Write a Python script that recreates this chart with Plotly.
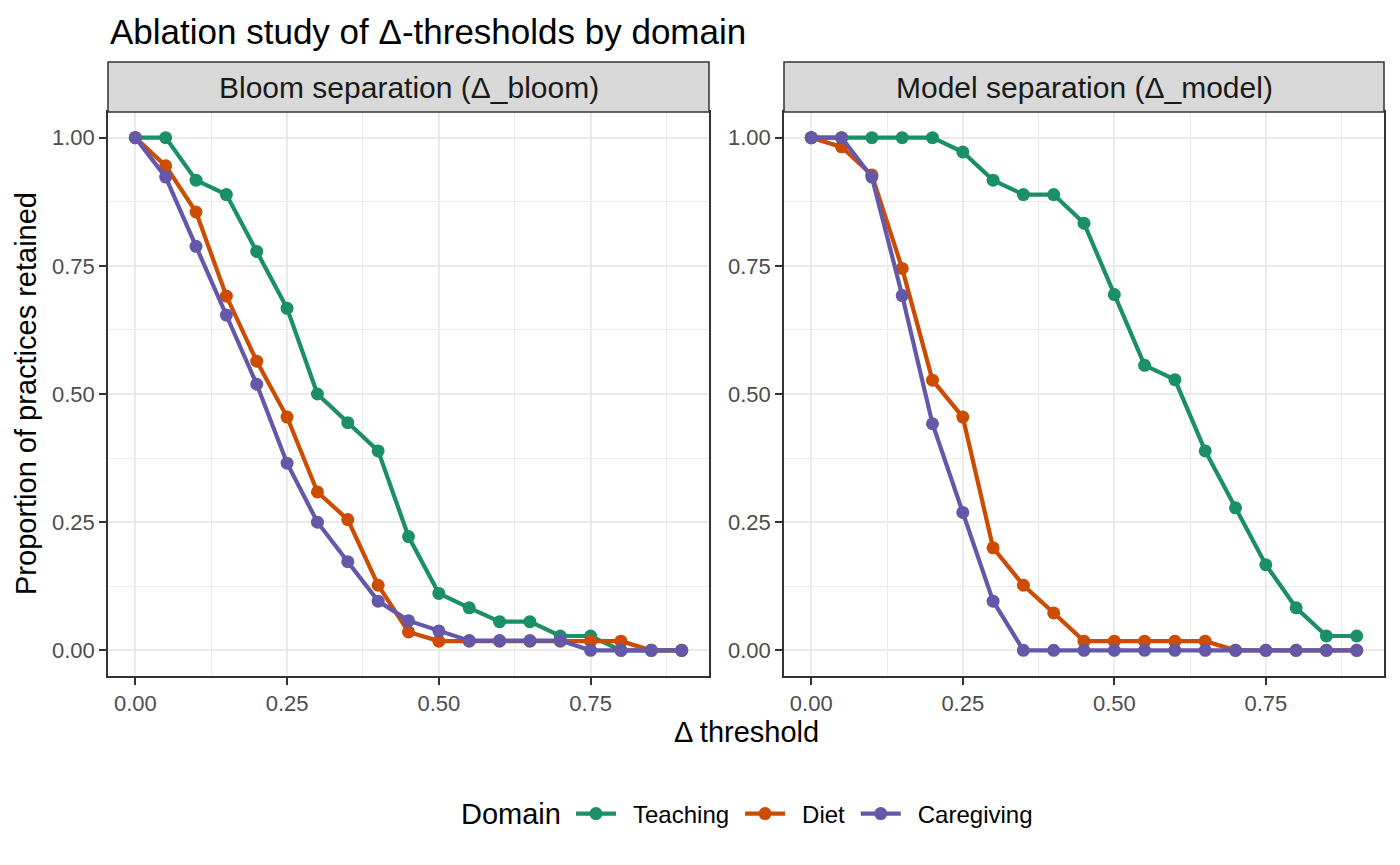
import plotly.graph_objects as go

# ---------------- data ----------------
thresholds = [0.00, 0.05, 0.10, 0.15, 0.20, 0.25, 0.30, 0.35, 0.40, 0.45,
              0.50, 0.55, 0.60, 0.65, 0.70, 0.75, 0.80, 0.85, 0.90]

domains = ["Teaching", "Diet", "Caregiving"]
colors = ["#1A8F68", "#CC4C02", "#6558A8"]

bloom_teaching = [1.000, 1.000, 0.917, 0.889, 0.778, 0.667, 0.500, 0.444, 0.389, 0.222,
                  0.111, 0.083, 0.056, 0.056, 0.028, 0.028, 0.000, 0.000, 0.000]
bloom_diet = [1.000, 0.945, 0.855, 0.691, 0.564, 0.455, 0.309, 0.255, 0.127, 0.036,
              0.018, 0.018, 0.018, 0.018, 0.018, 0.018, 0.018, 0.000, 0.000]
bloom_caregiving = [1.000, 0.923, 0.788, 0.654, 0.519, 0.365, 0.250, 0.173, 0.096, 0.058,
                    0.038, 0.019, 0.019, 0.019, 0.019, 0.000, 0.000, 0.000, 0.000]

model_teaching = [1.000, 1.000, 1.000, 1.000, 1.000, 0.972, 0.917, 0.889, 0.889, 0.833,
                  0.694, 0.556, 0.528, 0.389, 0.278, 0.167, 0.083, 0.028, 0.028]
model_diet = [1.000, 0.982, 0.927, 0.745, 0.527, 0.455, 0.200, 0.127, 0.073, 0.018,
              0.018, 0.018, 0.018, 0.018, 0.000, 0.000, 0.000, 0.000, 0.000]
model_caregiving = [1.000, 1.000, 0.923, 0.692, 0.442, 0.269, 0.096, 0.000, 0.000, 0.000,
                    0.000, 0.000, 0.000, 0.000, 0.000, 0.000, 0.000, 0.000, 0.000]

panel_titles = ["Bloom separation (Δ_bloom)", "Model separation (Δ_model)"]
x_ticks = [0.00, 0.25, 0.50, 0.75]
x_ticklabels = ["0.00", "0.25", "0.50", "0.75"]
y_ticks = [0.00, 0.25, 0.50, 0.75, 1.00]
y_ticklabels = ["0.00", "0.25", "0.50", "0.75", "1.00"]

panels = [
    [bloom_teaching, bloom_diet, bloom_caregiving],
    [model_teaching, model_diet, model_caregiving],
]

# ---------------- layout geometry (screen pixels; page has 8px body margin) ----------------
W, H = 1400, 865
OFF = 8
L_SCR, R_SCR, T_SCR, B_SCR = 108, 1384, 112, 676
ML = L_SCR - OFF
MT = T_SCR - OFF
MR = W - (R_SCR - OFF)
MB = H - (B_SCR - OFF)
PW = R_SCR - L_SCR
PH = B_SCR - T_SCR

def px(xs):
    return (xs - L_SCR) / PW

def py(ys):
    return (B_SCR - ys) / PH

dom1 = [0.0, px(709)]
dom2 = [px(784), 1.0]

FONT = "Liberation Sans, Arial, Helvetica, sans-serif"
GRID = "#EBEBEB"
DARK = "#333333"
PAD_L = "\u2002"  # en space: gap between legend key and label
PAD_R = "\u2005"  # small gap after label before next key

fig = go.Figure()

axis_names = [("x", "y"), ("x2", "y2")]
for p, series in enumerate(panels):
    xa, ya = axis_names[p]
    for name, col, vals in zip(domains, colors, series):
        fig.add_trace(go.Scatter(
            x=thresholds, y=vals, mode="lines+markers", name=PAD_L + name + PAD_R,
            line=dict(color=col, width=4.2),
            marker=dict(color=col, size=13),
            xaxis=xa, yaxis=ya, legendgroup=name, showlegend=(p == 0),
        ))

def xaxis_cfg(domain, anchor):
    return dict(
        domain=domain, anchor=anchor, range=[-0.045, 0.945],
        tickvals=x_ticks, ticktext=x_ticklabels,
        showgrid=True, gridcolor=GRID, gridwidth=2.2,
        minor=dict(tickvals=[0.125, 0.375, 0.625, 0.875], showgrid=True,
                   gridcolor=GRID, gridwidth=1.1),
        ticks="outside", ticklen=7, tickwidth=2, tickcolor=DARK,
        showline=True, mirror=True, linecolor=DARK, linewidth=1.5,
        zeroline=False, tickfont=dict(family=FONT, size=22, color="#4D4D4D"),
        fixedrange=True,
    )

def yaxis_cfg(anchor):
    return dict(
        domain=[0, 1], anchor=anchor, range=[-0.05, 1.05],
        tickvals=y_ticks, ticktext=y_ticklabels,
        showgrid=True, gridcolor=GRID, gridwidth=2.2,
        minor=dict(tickvals=[0.125, 0.375, 0.625, 0.875], showgrid=True,
                   gridcolor=GRID, gridwidth=1.1),
        ticks="outside", ticklen=7, tickwidth=2, tickcolor=DARK,
        showline=True, mirror=True, linecolor=DARK, linewidth=1.5,
        zeroline=False, tickfont=dict(family=FONT, size=22, color="#4D4D4D"),
        fixedrange=True,
    )

shapes = []
annotations = []
for dom, txt in zip([dom1, dom2], panel_titles):
    shapes.append(dict(type="rect", xref="paper", yref="paper",
                       x0=dom[0], x1=dom[1], y0=1.0, y1=py(62),
                       fillcolor="#D9D9D9", line=dict(color=DARK, width=1.5),
                       layer="above"))
    annotations.append(dict(text=txt, xref="paper", yref="paper",
                            x=(dom[0] + dom[1]) / 2, y=py(88),
                            xanchor="center", yanchor="middle", showarrow=False,
                            font=dict(family=FONT, size=30, color="#1A1A1A")))

annotations.append(dict(text="Ablation study of Δ-thresholds by domain",
                        xref="paper", yref="paper", x=0, y=py(31),
                        xanchor="left", yanchor="middle", showarrow=False,
                        font=dict(family=FONT, size=35, color="black")))
annotations.append(dict(text="Δ threshold", xref="paper", yref="paper",
                        x=px(746), y=py(732), xanchor="center",
                        yanchor="middle", showarrow=False,
                        font=dict(family=FONT, size=29, color="black")))
annotations.append(dict(text="Proportion of practices retained", xref="paper",
                        yref="paper", x=px(26), y=py(394),
                        xanchor="center", yanchor="middle", textangle=-90,
                        showarrow=False,
                        font=dict(family=FONT, size=29, color="black")))
# legend title
annotations.append(dict(text="Domain", xref="paper", yref="paper",
                        x=px(459), y=py(814), xanchor="left", yanchor="middle",
                        showarrow=False,
                        font=dict(family=FONT, size=29, color="black")))

fig.update_layout(
    width=W, height=H,
    margin=dict(l=ML, r=MR, t=MT, b=MB),
    paper_bgcolor="white", plot_bgcolor="white",
    font=dict(family=FONT, color="black"),
    xaxis=xaxis_cfg(dom1, "y"),
    yaxis=yaxis_cfg("x"),
    xaxis2=xaxis_cfg(dom2, "y2"),
    yaxis2=yaxis_cfg("x2"),
    shapes=shapes,
    annotations=annotations,
    showlegend=True,
    legend=dict(orientation="h", x=px(571), xanchor="left",
                y=py(814), yanchor="middle",
                font=dict(family=FONT, size=24, color="black"),
                itemwidth=40, bgcolor="rgba(0,0,0,0)"),
)

fig.write_html("out.html")
